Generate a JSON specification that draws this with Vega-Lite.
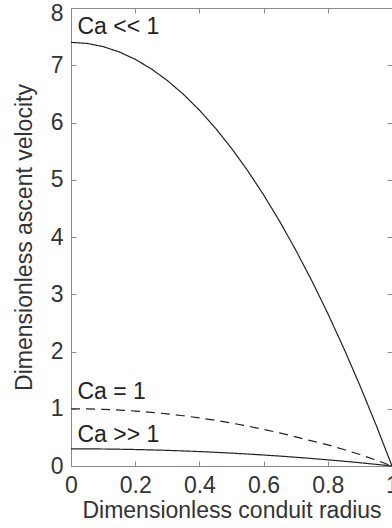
{
  "$schema": "https://vega.github.io/schema/vega-lite/v6.json",
  "width": 321,
  "height": 458,
  "autosize": {"type": "none"},
  "padding": {"left": 71, "top": 8, "right": 0, "bottom": 62},
  "background": "white",
  "config": {
    "view": {"stroke": "#8a8a8a", "strokeWidth": 1},
    "font": "Liberation Sans",
    "axis": {
      "grid": false,
      "domainColor": "#8a8a8a",
      "tickColor": "#8a8a8a",
      "tickSize": -5,
      "labelFont": "Liberation Sans",
      "titleFont": "Liberation Sans",
      "labelFontSize": 23,
      "titleFontSize": 23,
      "titleFontWeight": "normal",
      "labelColor": "#333333",
      "titleColor": "#333333"
    }
  },
  "datasets": {
    "curves": [
      {"r": 0, "v": 7.4, "series": "Ca << 1"}, {"r": 0.05, "v": 7.3815, "series": "Ca << 1"}, {"r": 0.1, "v": 7.326, "series": "Ca << 1"}, {"r": 0.15, "v": 7.2335, "series": "Ca << 1"}, {"r": 0.2, "v": 7.104, "series": "Ca << 1"}, {"r": 0.25, "v": 6.9375, "series": "Ca << 1"}, {"r": 0.3, "v": 6.734, "series": "Ca << 1"}, {"r": 0.35, "v": 6.4935, "series": "Ca << 1"}, {"r": 0.4, "v": 6.216, "series": "Ca << 1"}, {"r": 0.45, "v": 5.9015, "series": "Ca << 1"}, {"r": 0.5, "v": 5.55, "series": "Ca << 1"}, {"r": 0.55, "v": 5.1615, "series": "Ca << 1"}, {"r": 0.6, "v": 4.736, "series": "Ca << 1"}, {"r": 0.65, "v": 4.2735, "series": "Ca << 1"}, {"r": 0.7, "v": 3.774, "series": "Ca << 1"}, {"r": 0.75, "v": 3.2375, "series": "Ca << 1"}, {"r": 0.8, "v": 2.664, "series": "Ca << 1"}, {"r": 0.85, "v": 2.0535, "series": "Ca << 1"}, {"r": 0.9, "v": 1.406, "series": "Ca << 1"}, {"r": 0.95, "v": 0.7215, "series": "Ca << 1"}, {"r": 1, "v": 0, "series": "Ca << 1"},
      {"r": 0, "v": 1.0, "series": "Ca = 1"}, {"r": 0.05, "v": 0.9975, "series": "Ca = 1"}, {"r": 0.1, "v": 0.99, "series": "Ca = 1"}, {"r": 0.15, "v": 0.9775, "series": "Ca = 1"}, {"r": 0.2, "v": 0.96, "series": "Ca = 1"}, {"r": 0.25, "v": 0.9375, "series": "Ca = 1"}, {"r": 0.3, "v": 0.91, "series": "Ca = 1"}, {"r": 0.35, "v": 0.8775, "series": "Ca = 1"}, {"r": 0.4, "v": 0.84, "series": "Ca = 1"}, {"r": 0.45, "v": 0.7975, "series": "Ca = 1"}, {"r": 0.5, "v": 0.75, "series": "Ca = 1"}, {"r": 0.55, "v": 0.6975, "series": "Ca = 1"}, {"r": 0.6, "v": 0.64, "series": "Ca = 1"}, {"r": 0.65, "v": 0.5775, "series": "Ca = 1"}, {"r": 0.7, "v": 0.51, "series": "Ca = 1"}, {"r": 0.75, "v": 0.4375, "series": "Ca = 1"}, {"r": 0.8, "v": 0.37, "series": "Ca = 1"}, {"r": 0.85, "v": 0.2875, "series": "Ca = 1"}, {"r": 0.9, "v": 0.2, "series": "Ca = 1"}, {"r": 0.95, "v": 0.105, "series": "Ca = 1"}, {"r": 1, "v": 0, "series": "Ca = 1"},
      {"r": 0, "v": 0.3, "series": "Ca >> 1"}, {"r": 0.05, "v": 0.2993, "series": "Ca >> 1"}, {"r": 0.1, "v": 0.297, "series": "Ca >> 1"}, {"r": 0.15, "v": 0.2933, "series": "Ca >> 1"}, {"r": 0.2, "v": 0.288, "series": "Ca >> 1"}, {"r": 0.25, "v": 0.2813, "series": "Ca >> 1"}, {"r": 0.3, "v": 0.273, "series": "Ca >> 1"}, {"r": 0.35, "v": 0.2633, "series": "Ca >> 1"}, {"r": 0.4, "v": 0.252, "series": "Ca >> 1"}, {"r": 0.45, "v": 0.2393, "series": "Ca >> 1"}, {"r": 0.5, "v": 0.225, "series": "Ca >> 1"}, {"r": 0.55, "v": 0.2093, "series": "Ca >> 1"}, {"r": 0.6, "v": 0.192, "series": "Ca >> 1"}, {"r": 0.65, "v": 0.1733, "series": "Ca >> 1"}, {"r": 0.7, "v": 0.153, "series": "Ca >> 1"}, {"r": 0.75, "v": 0.1313, "series": "Ca >> 1"}, {"r": 0.8, "v": 0.108, "series": "Ca >> 1"}, {"r": 0.85, "v": 0.0833, "series": "Ca >> 1"}, {"r": 0.9, "v": 0.057, "series": "Ca >> 1"}, {"r": 0.95, "v": 0.0293, "series": "Ca >> 1"}, {"r": 1, "v": 0, "series": "Ca >> 1"}
    ],
    "labels": [
      {"r": 0.02, "v": 7.67, "text": "Ca << 1"},
      {"r": 0.02, "v": 1.3, "text": "Ca = 1"},
      {"r": 0.02, "v": 0.55, "text": "Ca >> 1"}
    ]
  },
  "layer": [
    {
      "data": {"name": "curves"},
      "mark": {"type": "line", "color": "#222222", "strokeWidth": 1.2},
      "encoding": {
        "x": {"field": "r", "type": "quantitative", "scale": {"domain": [0, 1], "nice": false},
              "axis": {"orient": "bottom", "title": "Dimensionless conduit radius", "values": [0, 0.2, 0.4, 0.6, 0.8, 1], "format": "~g", "labelPadding": 13, "titlePadding": 2, "labelFlush": false, "labelFontSize": 23, "titleFontSize": 23}},
        "y": {"field": "v", "type": "quantitative", "scale": {"domain": [0, 8], "nice": false},
              "axis": {"orient": "left", "title": "Dimensionless ascent velocity", "values": [0, 1, 2, 3, 4, 5, 6, 7, 8], "labelPadding": 13, "titlePadding": 14, "labelFlush": false, "labelFontSize": 23, "titleFontSize": 23,
                       "labelOffset": {"expr": "datum.value == 8 ? 5 : 0"}}},
        "detail": {"field": "series"},
        "strokeDash": {"field": "series", "type": "nominal", "legend": null,
                       "scale": {"domain": ["Ca << 1", "Ca = 1", "Ca >> 1"], "range": [[1, 0], [9, 6], [1, 0]]}}
      }
    },
    {
      "data": {"name": "labels"},
      "mark": {"type": "text", "align": "left", "baseline": "middle", "fontSize": 23, "color": "#222222", "font": "Liberation Sans"},
      "encoding": {
        "x": {"field": "r", "type": "quantitative", "axis": null},
        "y": {"field": "v", "type": "quantitative", "axis": null},
        "text": {"field": "text"}
      }
    },
    {
      "data": {"name": "labels"},
      "mark": {"type": "point", "opacity": 0},
      "encoding": {
        "x": {"field": "r", "type": "quantitative", "axis": {"orient": "top", "labels": false, "title": null, "domain": false, "values": [0, 0.2, 0.4, 0.6, 0.8, 1]}},
        "y": {"field": "v", "type": "quantitative", "axis": {"orient": "right", "labels": false, "title": null, "domain": false, "values": [0, 1, 2, 3, 4, 5, 6, 7, 8]}}
      }
    }
  ],
  "resolve": {"axis": {"x": "independent", "y": "independent"}}
}
